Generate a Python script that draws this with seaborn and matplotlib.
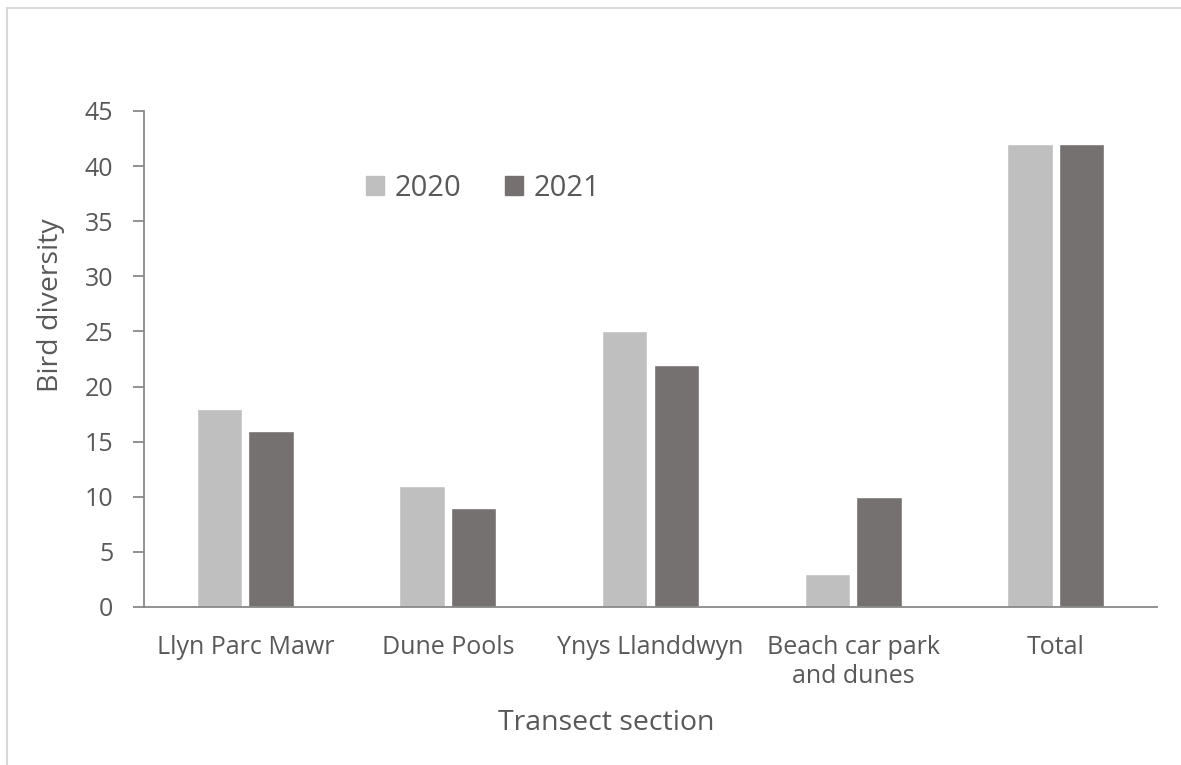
import matplotlib
matplotlib.use('agg')
import matplotlib.pyplot as plt
from matplotlib.lines import Line2D
import pandas as pd
import seaborn as sns

# data
sections = ['Llyn Parc Mawr', 'Dune Pools', 'Ynys Llanddwyn', 'Beach car park\nand dunes', 'Total']
years = ['2020', '2021']
div_2020 = [18, 11, 25, 3, 42]
div_2021 = [16, 9, 22, 10, 42]

df = pd.DataFrame({
    'section': sections * 2,
    'year': [years[0]] * len(sections) + [years[1]] * len(sections),
    'diversity': div_2020 + div_2021,
})

sns.set_theme(style='white')
plt.rcParams['font.family'] = ['Open Sans', 'DejaVu Sans']
txt = '#595959'
axc = '#898989'

fig = plt.figure(figsize=(11.81, 7.65), dpi=100)
ax = fig.add_axes([144 / 1181, 1 - 607 / 765, (1157 - 144) / 1181, (607 - 111) / 765])

sns.barplot(data=df, x='section', y='diversity', hue='year', order=sections,
            palette=['#bfbfbf', '#767171'], width=0.51, gap=0.12,
            saturation=1, ax=ax, legend=False)

ax.set_ylim(0, 45)
ax.set_yticks(range(0, 46, 5))
ax.set_xlim(-0.5, len(sections) - 0.5)
for s in ['top', 'right']:
    ax.spines[s].set_visible(False)
for s in ['left', 'bottom']:
    ax.spines[s].set_color(axc)
    ax.spines[s].set_linewidth(1.3)
ax.tick_params(axis='y', left=True, length=8, width=1.3, color=axc, pad=14,
               labelsize=18, labelcolor=txt)
ax.tick_params(axis='x', bottom=False, pad=14, labelsize=18, labelcolor=txt)
for lab in ax.get_xticklabels():
    lab.set_linespacing(1.2)

ax.set_xlabel('Transect section', fontsize=20.5, color=txt)
ax.set_ylabel('Bird diversity', fontsize=20.5, color=txt)
ax.xaxis.set_label_coords(0.456, -0.205)
ax.yaxis.set_label_coords(-0.078, 0.609)

# legend
handles = [plt.Rectangle((0, 0), 1, 1, color=c) for c in ['#bfbfbf', '#767171']]
fig.legend(handles, years, loc='center', bbox_to_anchor=(483 / 1181, 1 - 188 / 765),
           ncol=2, frameon=False, fontsize=21, labelcolor=txt,
           handlelength=0.62, handleheight=0.62, handletextpad=0.35,
           columnspacing=1.5)

# light chart-area border (left and top edges visible)
bc = '#d9d9d9'
fig.add_artist(Line2D([7 / 1181, 7 / 1181], [0, 1 - 8 / 765], color=bc, lw=1.5))
fig.add_artist(Line2D([7 / 1181, 1], [1 - 8 / 765, 1 - 8 / 765], color=bc, lw=1.5))

fig.savefig('out.png', dpi=100, facecolor='white')
